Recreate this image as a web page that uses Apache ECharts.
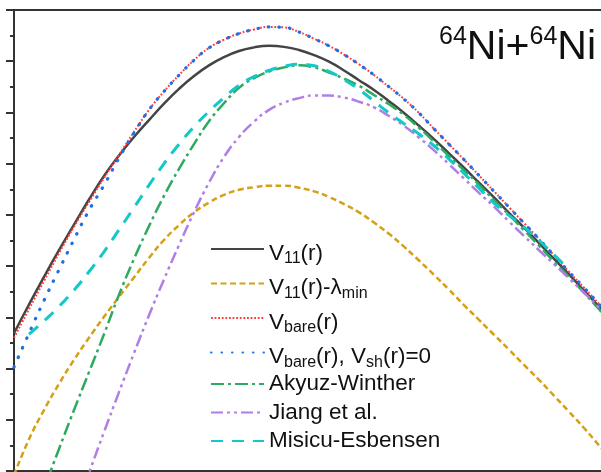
<!DOCTYPE html>
<html>
<head>
<meta charset="utf-8">
<script src="https://cdn.jsdelivr.net/npm/echarts@6/dist/echarts.min.js"></script>
<style>html,body{margin:0;padding:0;background:#fff}#c{width:601px;height:472px}</style>
</head>
<body>
<div id="c"></div>
<script>
// r (fm) sampling grid shared by all curves: 6.0 .. 14.0, step 0.2
const r = [6.0,6.2,6.4,6.6,6.8,7.0,7.2,7.4,7.6,7.8,8.0,8.2,8.4,8.6,8.8,9.0,9.2,9.4,9.6,9.8,
           10.0,10.2,10.4,10.6,10.8,11.0,11.2,11.4,11.6,11.8,12.0,12.2,12.4,12.6,12.8,13.0,13.2,13.4,13.6,13.8,14.0];
// potentials (MeV)
const v11 = [92.69,93.25,93.79,94.31,94.81,95.30,95.76,96.16,96.52,96.85,97.17,97.46,97.71,97.92,98.08,98.20,98.27,98.30,98.28,98.22,
             98.12,97.99,97.82,97.63,97.44,97.22,96.99,96.74,96.48,96.20,95.92,95.63,95.34,95.04,94.75,94.45,94.14,93.84,93.52,93.21,92.88];
const v11Lambda = [89.92,90.62,91.19,91.70,92.17,92.60,93.01,93.40,93.78,94.16,94.51,94.80,95.05,95.24,95.39,95.49,95.54,95.57,95.57,95.53,
                   95.46,95.35,95.21,95.05,94.85,94.63,94.38,94.11,93.83,93.54,93.24,92.95,92.66,92.37,92.07,91.78,91.47,91.16,90.84,90.50,90.15];
const vBare = [92.60,93.16,93.71,94.25,94.77,95.25,95.72,96.17,96.62,97.05,97.41,97.73,98.02,98.26,98.42,98.54,98.62,98.67,98.66,98.57,
               98.44,98.30,98.13,97.94,97.73,97.50,97.26,96.99,96.68,96.38,96.08,95.77,95.46,95.15,94.84,94.53,94.21,93.89,93.58,93.26,92.93];
const vBareNoSh = [92.03,92.69,93.33,93.93,94.52,95.09,95.58,96.11,96.60,97.05,97.41,97.73,98.02,98.26,98.42,98.54,98.62,98.67,98.66,98.57,
                   98.44,98.30,98.13,97.94,97.73,97.50,97.26,96.99,96.68,96.38,96.08,95.77,95.46,95.15,94.84,94.53,94.21,93.89,93.58,93.26,92.93];
const akyuzWinther = [88.07,88.87,89.65,90.43,91.19,91.93,92.67,93.44,94.14,94.78,95.37,95.90,96.38,96.83,97.18,97.48,97.67,97.80,97.88,97.92,
                      97.88,97.78,97.66,97.52,97.34,97.16,96.95,96.70,96.43,96.15,95.87,95.59,95.29,95.00,94.70,94.40,94.09,93.79,93.48,93.16,92.83];
const jiang = [null,null,null,null,89.14,89.96,90.76,91.54,92.30,93.04,93.74,94.41,95.05,95.63,96.13,96.52,96.82,97.05,97.19,97.28,
               97.33,97.33,97.29,97.21,97.10,96.93,96.74,96.51,96.26,95.99,95.71,95.43,95.16,94.87,94.59,94.31,94.04,93.76,93.48,93.19,92.88];
const misicu = [null,92.67,92.93,93.21,93.53,93.89,94.28,94.71,95.14,95.58,96.00,96.38,96.72,97.02,97.29,97.53,97.70,97.82,97.90,97.94,
                97.91,97.80,97.64,97.45,97.22,96.99,96.78,96.58,96.35,96.09,95.81,95.52,95.23,94.99,94.76,94.50,94.22,93.94,null,null,null];

const seriesNames = ['V11(r)','V11(r)-lambda','Vbare(r)','Vbare(r),Vsh=0','Akyuz-Winther','Jiang et al.','Misicu-Esbensen'];
const legendLabels = [
  '{m|V}{s|11}{m|(r)}',
  '{m|V}{s|11}{m|(r)-λ}{s|min}',
  '{m|V}{s|bare}{m|(r)}',
  '{m|V}{s|bare}{m|(r), V}{s|sh}{m|(r)=0}',
  'Akyuz-Winther',
  'Jiang et al.',
  'Misicu-Esbensen'
];
const titleText = '{s|64}{m|Ni+}{s|64}{m|Ni}';

const F = '"Liberation Sans", Arial, sans-serif';
const styles = [
  {color:'#444444', width:2.5, type:'solid'},
  {color:'#D4A017', width:2.5, type:[6,3.5]},
  {color:'#FF3B3B', width:2, type:[1.8,1.8]},
  {color:'#1E6FE8', width:3.2, type:[0.5,10], cap:'round'},
  {color:'#2EAA5F', width:2.5, type:[13,4,3,4]},
  {color:'#B07FE6', width:2.5, type:[12,4,3,4,3,4]},
  {color:'#13C8C8', width:3, type:[12,9]}
];
const values = [v11, v11Lambda, vBare, vBareNoSh, akyuzWinther, jiang, misicu];

const labelMap = {};
seriesNames.forEach((n,i)=>{labelMap[n]=legendLabels[i];});

const chart = echarts.init(document.getElementById('c'), null, {renderer:'canvas'});
chart.setOption({
  animation:false,
  backgroundColor:'#fff',
  grid:{left:14, top:10, width:600, height:461, show:true, borderColor:'#333', borderWidth:2,
        backgroundColor:'transparent', containLabel:false, outerBoundsMode:'none'},
  xAxis:{type:'value', min:6, max:14,
    axisLine:{show:true, onZero:false, lineStyle:{color:'#333', width:2}},
    axisTick:{show:false}, axisLabel:{show:false}, splitLine:{show:false}},
  yAxis:{type:'value', min:90, max:99, interval:1,
    axisLine:{show:true, onZero:false, lineStyle:{color:'#333', width:2}},
    axisTick:{show:true, inside:false, length:8, lineStyle:{color:'#333', width:2}},
    minorTick:{show:true, splitNumber:2, length:4, lineStyle:{color:'#333', width:2}},
    axisLabel:{show:false}, splitLine:{show:false}, minorSplitLine:{show:false}},
  legend:{
    orient:'vertical', left:210, top:231, padding:0, itemGap:-1.5,
    itemWidth:53, itemHeight:6, selectedMode:false,
    itemStyle:{color:'rgba(0,0,0,0)', borderWidth:0},
    data:seriesNames,
    formatter:function(name){return labelMap[name];},
    textStyle:{fontSize:22.5, lineHeight:30, fontFamily:F, color:'#111',
      rich:{
        m:{fontSize:22.5, lineHeight:22, padding:[9,0,0,0], fontFamily:F, color:'#111'},
        s:{fontSize:16, lineHeight:16, padding:[20,0,0,0], fontFamily:F, color:'#111'}
      }}
  },
  graphic:[{
    type:'text', right:5, top:25, silent:true,
    style:{text:titleText, fill:'#111', fontFamily:F, fontSize:41,
      rich:{
        m:{fontSize:41, lineHeight:41, fontFamily:F, fill:'#111'},
        s:{fontSize:25, lineHeight:25, padding:[0,0,21,0], fontFamily:F, fill:'#111'}
      }}
  }],
  series: seriesNames.map((n,i)=>({
    name:n, type:'line', symbol:'none', smooth:0.5, clip:true,
    data: r.map((x,k)=> values[i][k]==null ? [x,'-'] : [x, values[i][k]]),
    lineStyle:{color:styles[i].color, width:styles[i].width, type:styles[i].type, cap:styles[i].cap||'butt'},
    itemStyle:{color:styles[i].color},
    emphasis:{disabled:true}
  }))
});
</script>
</body>
</html>
